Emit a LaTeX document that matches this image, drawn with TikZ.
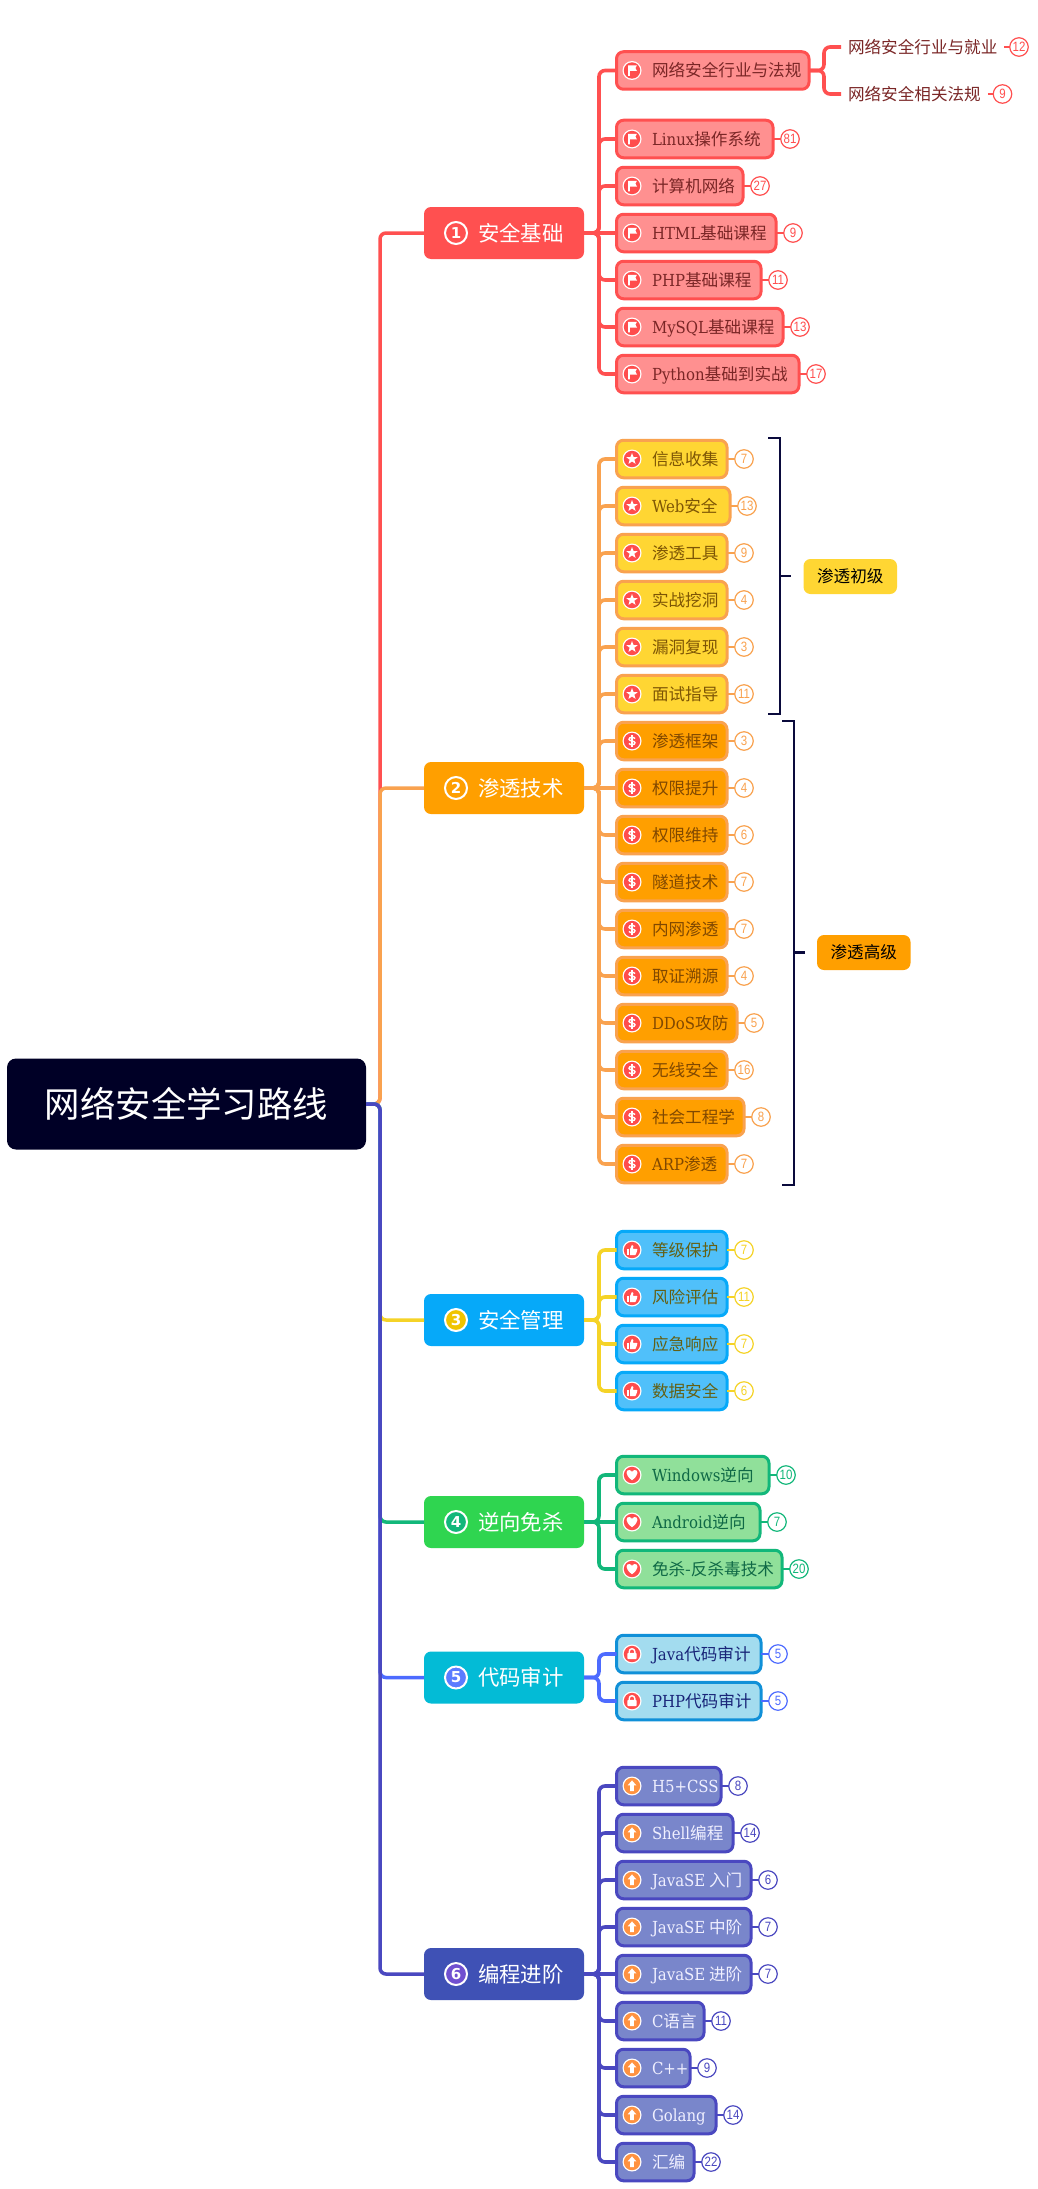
\documentclass[tikz,border=0pt]{standalone}
\usepackage{fontspec}
\setmainfont{Noto Sans CJK SC}
\newfontfamily\latf{DejaVu Serif Condensed}
\newfontfamily\numf[FakeStretch=0.85]{Liberation Sans}
\newfontfamily\icf{DejaVu Sans}
\newcommand\Lt[1]{{\latf #1}}
\newcommand\vc{\rule[-.22em]{0pt}{1.2em}}
\definecolor{cred}{HTML}{FF5050}
\definecolor{cora}{HTML}{F9A24F}
\definecolor{cyel}{HTML}{F5D327}
\definecolor{cgre}{HTML}{12B77A}
\definecolor{cblu}{HTML}{4D6BFF}
\definecolor{cpur}{HTML}{4A48C0}
\definecolor{croot}{HTML}{000026}
\definecolor{cbk}{HTML}{0A0A3C}
\definecolor{icred}{HTML}{FF4D4D}
\definecolor{icora}{HTML}{FF9240}
\definecolor{fr}{HTML}{FF9090}
\definecolor{tr}{HTML}{7A2626}
\definecolor{fy}{HTML}{FFD633}
\definecolor{ty}{HTML}{7D5505}
\definecolor{fo}{HTML}{FF9F00}
\definecolor{to}{HTML}{804800}
\definecolor{fb}{HTML}{50C0FA}
\definecolor{db}{HTML}{06A9F9}
\definecolor{tb}{HTML}{646014}
\definecolor{fg}{HTML}{90E09A}
\definecolor{tg}{HTML}{0F6946}
\definecolor{fc}{HTML}{A3DCEF}
\definecolor{dc}{HTML}{1090D8}
\definecolor{tc}{HTML}{182478}
\definecolor{fp}{HTML}{7986CB}
\definecolor{tp}{HTML}{F0F0FF}
\definecolor{sg}{HTML}{2FD550}
\definecolor{sc}{HTML}{03BBD6}
\definecolor{sp}{HTML}{3F51B5}
\definecolor{ny}{HTML}{F0C400}
\definecolor{nb}{HTML}{5C7CFF}
\definecolor{np}{HTML}{7050D0}
\tikzset{
  rootn/.style={anchor=west,fill=croot,text=white,rounded corners=9pt,inner sep=0pt,outer sep=0pt,
    minimum width=359pt,minimum height=91pt,font=\fontsize{35.4}{40}\selectfont},
  sec/.style={anchor=west,text=white,rounded corners=7pt,inner sep=0pt,outer sep=0pt,
    minimum width=160pt,minimum height=52pt,font=\fontsize{21.4}{24}\selectfont},
  leafn/.style={anchor=west,rounded corners=7pt,inner sep=0pt,outer sep=0pt,line width=3pt,
    minimum height=37.5pt,font=\fontsize{16.6}{19}\selectfont},
  lr/.style={leafn,fill=fr,draw=cred,text=tr},
  ly1/.style={leafn,fill=fy,draw=cora,text=ty},
  ly2/.style={leafn,fill=fo,draw=cora,text=to},
  lb/.style={leafn,fill=fb,draw=db,text=tb},
  lg/.style={leafn,fill=fg,draw=cgre,text=tg},
  lc/.style={leafn,fill=fc,draw=dc,text=tc},
  lp/.style={leafn,fill=fp,draw=cpur,text=tp},
  badge/.style={circle,draw=#1,fill=white,text=#1,line width=1.2pt,minimum size=18.5pt,inner sep=0pt,outer sep=0pt,
    font=\fontsize{13.5}{13.5}\selectfont\numf},
  numic/.style={circle,draw=white,line width=2pt,minimum size=22pt,inner sep=0pt,text=white,
    font=\fontsize{15}{15}\selectfont\icf\bfseries},
  trunk/.style={draw=#1,line width=3.5pt,rounded corners=6pt},
  branch/.style={draw=#1,line width=3.6pt,rounded corners=6pt},
  stub/.style={draw=#1,line width=2.5pt},
  plain/.style={anchor=west,inner ysep=0pt,inner xsep=7pt,outer sep=0pt,text=tr,font=\fontsize{16.6}{19}\selectfont},
  lab/.style={rounded corners=7pt,anchor=west,inner sep=0pt,outer sep=0pt,text=black,minimum width=93.5pt,minimum height=35pt,font=\fontsize{16.6}{19}\selectfont},
  brk/.style={draw=cbk,line width=2.8pt}
}
% icons: drawn about the origin
\newcommand\icbase[1]{\fill[white] (0,0) circle (9.5); \fill[#1] (0,0) circle (8.2);}
\newcommand\icflag{\icbase{icred}
  \fill[white] (-4,-5.2)--(5,-5.2)--(3.4,-2.5)--(5,0.5)--(-2.2,0.5)--(-2.2,5.4)--(-4,5.4)--cycle;}
\newcommand\icstar{\icbase{icred}
  \fill[white] (0,-6)--(1.47,-2.02)--(5.71,-1.85)--(2.38,0.77)--(3.53,4.85)--(0,2.5)--(-3.53,4.85)--(-2.38,0.77)--(-5.71,-1.85)--(-1.47,-2.02)--cycle;}
\newcommand\icdollar{\icbase{icred}
  \draw[white,line width=1.4pt] (3,-2.4) .. controls (2.4,-4) and (-3,-4.3) .. (-3,-1.8) .. controls (-3,0.5) and (3,-0.5) .. (3,1.8) .. controls (3,4.3) and (-2.4,4) .. (-3,2.4);
  \draw[white,line width=1.3pt] (0,-5.6)--(0,5.6);}
\newcommand\icthumb{\icbase{icred}
  \fill[white] (-5,-1)--(-3,-1)--(-3,5)--(-5,5)--cycle;
  \fill[white] (-2,-0.8)--(0,-5.2) .. controls (1.6,-5.2) and (1.6,-3.2) .. (1,-1.2)--(4.6,-1.2) .. controls (5.4,-1.2) and (5.4,0) .. (5.2,0.6)--(3.8,4.4) .. controls (3.6,5) and (3.2,5) .. (3,5)--(-2,5)--cycle;}
\newcommand\icheart{\icbase{icred}
  \fill[white] (0,5.2) .. controls (-7.4,0) and (-6.2,-5.4) .. (-2.8,-5) .. controls (-1.2,-4.9) and (-0.2,-3.8) .. (0,-3) .. controls (0.2,-3.8) and (1.2,-4.9) .. (2.8,-5) .. controls (6.2,-5.4) and (7.4,0) .. (0,5.2)--cycle;}
\newcommand\iclock{\icbase{icred}
  \fill[white,rounded corners=1pt] (-4.6,-1.2) rectangle (4.6,5.2);
  \draw[white,line width=1.4pt] (-2.8,-1)--(-2.8,-2.4) .. controls (-2.8,-6.2) and (2.8,-6.2) .. (2.8,-2.4)--(2.8,-1);}
\newcommand\icarrow{\icbase{icora}
  \fill[white] (0,-5.6)--(4.4,-0.6)--(1.8,-0.6)--(1.8,5.2)--(-1.8,5.2)--(-1.8,-0.6)--(-4.4,-0.6)--cycle;}
% #1 id, #2 y, #3 right edge, #4 text
\newcommand\leafnb[4]{%
  \pgfmathsetmacro\leafw{#3-616-1.5}%
  \node[\gs] (#1) at (616.5,#2) {\makebox[\leafw pt][l]{\hspace*{35.5pt}\vc #4}};
  \ifdim#2pt=\py pt
    \draw[branch=\gc] (\pn.east) -- (#1.west);
  \else
    \draw[branch=\gc] (\pn.east) -- ++(15,0) |- (#1.west);
  \fi
  \begin{scope}[shift={(632,#2)}]\gi\end{scope}
}
% #5 number
\newcommand\leaf[5]{%
  \leafnb{#1}{#2}{#3}{#4}%
  \pgfmathsetmacro\badgex{#3+16}%
  \node[badge=\gb] (#1b) at (\badgex,#2) {#5};
  \draw[stub=\gc] (#1.east) -- (#1b.west);
}
\newcommand\secn[6]{% id y fill digit-fill digit text
  \node[sec,fill=#3] (#1) at (424,#2) {\makebox[160pt][l]{\hspace*{54pt}\vc #6}};
  \node[numic,fill=#4] (#1n) at (456,#2) {#5};
}
\begin{document}
\begin{tikzpicture}[x=1pt,y=-1pt]
\useasboundingbox[fill=white] (0,0) rectangle (1038,2189);

\node[rootn] (root) at (7,1104) {\makebox[359pt][c]{\vc 网络安全学习路线}};

\secn{s1}{233}{cred}{cred}{1}{安全基础}
\secn{s2}{788}{fo}{fo}{2}{渗透技术}
\secn{s3}{1320}{db}{ny}{3}{安全管理}
\secn{s4}{1522}{sg}{cgre}{4}{逆向免杀}
\secn{s5}{1677.5}{sc}{nb}{5}{代码审计}
\secn{s6}{1974}{sp}{np}{6}{编程进阶}

\draw[trunk=cred] (root.east) -- ++(14,0) |- (s1.west);
\draw[trunk=cora] (root.east) -- ++(14,0) |- (s2.west);
\draw[trunk=cyel] (root.east) -- ++(14,0) |- (s3.west);
\draw[trunk=cgre] (root.east) -- ++(14,0) |- (s4.west);
\draw[trunk=cblu] (root.east) -- ++(14,0) |- (s5.west);
\draw[trunk=cpur] (root.east) -- ++(14,0) |- (s6.west);

% section 1
\def\pn{s1}\def\py{233}\def\gc{cred}\def\gb{cred}\def\gs{lr}\let\gi\icflag
\leafnb{a1}{70.5}{810}{网络安全行业与法规}
\leaf{a2}{139}{774}{\Lt{Linux}操作系统}{81}
\leaf{a3}{186}{744}{计算机网络}{27}
\leaf{a4}{233}{777}{\Lt{HTML}基础课程}{9}
\leaf{a5}{280}{762}{\Lt{PHP}基础课程}{11}
\leaf{a6}{327}{784}{\Lt{MySQL}基础课程}{13}
\leaf{a7}{374}{800}{\Lt{Python}基础到实战}{17}
\node[plain] (t1) at (841,47) {\vc 网络安全行业与就业};
\node[plain] (t2) at (841,94) {\vc 网络安全相关法规};
\draw[branch=cred] (a1.east) -- ++(15,0) |- (t1.west);
\draw[branch=cred] (a1.east) -- ++(15,0) |- (t2.west);
\node[badge=cred] (t1b) at (1019,47) {12};
\node[badge=cred] (t2b) at (1002.5,94) {9};
\draw[stub=cred] (t1.east) -- (t1b.west);
\draw[stub=cred] (t2.east) -- (t2b.west);

% section 2
\def\pn{s2}\def\py{788}\def\gc{cora}\def\gb{cora}\def\gs{ly1}\let\gi\icstar
\leaf{b1}{459}{728}{信息收集}{7}
\leaf{b2}{506}{731}{\Lt{Web}安全}{13}
\leaf{b3}{553}{728}{渗透工具}{9}
\leaf{b4}{600}{728}{实战挖洞}{4}
\leaf{b5}{647}{728}{漏洞复现}{3}
\leaf{b6}{694}{728}{面试指导}{11}
\def\gs{ly2}\let\gi\icdollar
\leaf{c1}{741}{728}{渗透框架}{3}
\leaf{c2}{788}{728}{权限提升}{4}
\leaf{c3}{835}{728}{权限维持}{6}
\leaf{c4}{882}{728}{隧道技术}{7}
\leaf{c5}{929}{728}{内网渗透}{7}
\leaf{c6}{976}{728}{取证溯源}{4}
\leaf{c7}{1023}{738}{\Lt{DDoS}攻防}{5}
\leaf{c8}{1070}{728}{无线安全}{16}
\leaf{c9}{1117}{745}{社会工程学}{8}
\leaf{c10}{1164}{728}{\Lt{ARP}渗透}{7}

% brackets
\coordinate (k1a) at (768,438);
\coordinate (k1b) at (768,714);
\coordinate (k1m) at (780,576);
\coordinate (k1e) at (791,576);
\draw[brk] (k1a) -| (k1m) |- (k1b);
\draw[brk] (k1m) -- (k1e);
\node[lab,fill=fy] (l1) at (803.5,576.5) {\vc 渗透初级};
\coordinate (k2a) at (782,721);
\coordinate (k2b) at (782,1185);
\coordinate (k2m) at (794,952.5);
\coordinate (k2e) at (805,952.5);
\draw[brk] (k2a) -| (k2m) |- (k2b);
\draw[brk] (k2m) -- (k2e);
\node[lab,fill=fo] (l2) at (817,952.5) {\vc 渗透高级};

% section 3
\def\pn{s3}\def\py{1320}\def\gc{cyel}\def\gb{cyel}\def\gs{lb}\let\gi\icthumb
\leaf{d1}{1250}{728}{等级保护}{7}
\leaf{d2}{1297}{728}{风险评估}{11}
\leaf{d3}{1344}{728}{应急响应}{7}
\leaf{d4}{1391}{728}{数据安全}{6}

% section 4
\def\pn{s4}\def\py{1522}\def\gc{cgre}\def\gb{cgre}\def\gs{lg}\let\gi\icheart
\leaf{e1}{1475}{770}{\Lt{Windows}逆向}{10}
\leaf{e2}{1522}{761}{\Lt{Android}逆向}{7}
\leaf{e3}{1569}{783}{免杀-反杀毒技术}{20}

% section 5
\def\pn{s5}\def\py{1677.5}\def\gc{cblu}\def\gb{cblu}\def\gs{lc}\let\gi\iclock
\leaf{f1}{1654}{762}{\Lt{Java}代码审计}{5}
\leaf{f2}{1701}{762}{\Lt{PHP}代码审计}{5}

% section 6
\def\pn{s6}\def\py{1974}\def\gc{cpur}\def\gb{cpur}\def\gs{lp}\let\gi\icarrow
\leaf{g1}{1786}{722}{\Lt{H5+CSS}}{8}
\leaf{g2}{1833}{734}{\Lt{Shell}编程}{14}
\leaf{g3}{1880}{752}{\Lt{JavaSE} 入门}{6}
\leaf{g4}{1927}{752}{\Lt{JavaSE} 中阶}{7}
\leaf{g5}{1974}{752}{\Lt{JavaSE} 进阶}{7}
\leaf{g6}{2021}{705}{\Lt{C}语言}{11}
\leaf{g7}{2068}{691}{\Lt{C++}}{9}
\leaf{g8}{2115}{717}{\Lt{Golang}}{14}
\leaf{g9}{2162}{695}{汇编}{22}
\end{tikzpicture}
\end{document}
